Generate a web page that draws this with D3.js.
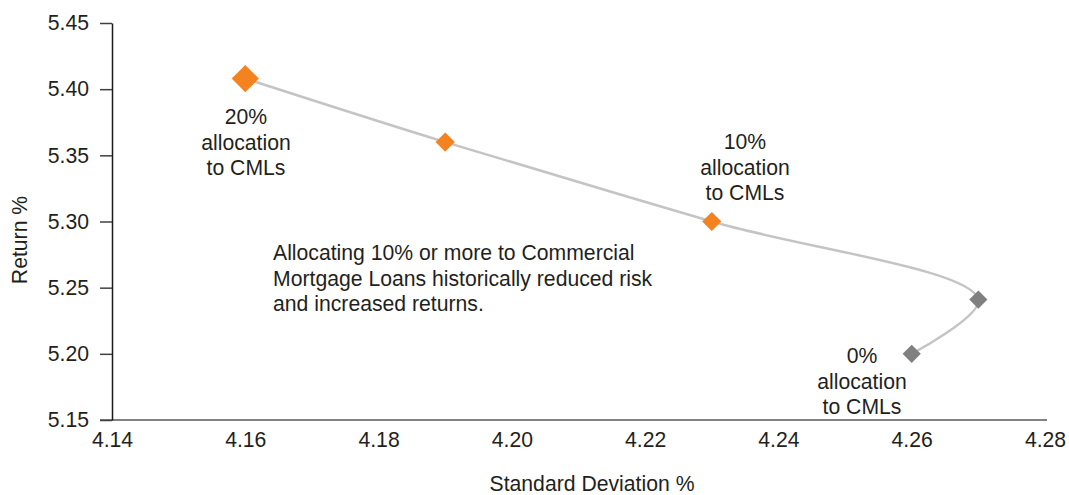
<!DOCTYPE html>
<html>
<head>
<meta charset="utf-8">
<script src="https://cdn.jsdelivr.net/npm/d3@7"></script>
<style>
  html, body { margin: 0; padding: 0; background: #fff; }
  svg { display: block; font-family: "Liberation Sans", Arial, Helvetica, sans-serif; }
</style>
</head>
<body>
<svg id="chart" width="1069" height="495"></svg>
<script>
// ---- data ----
const allocations = [20, 15, 10, 5, 0];            // % allocation to CMLs
const stdDev      = [4.16, 4.19, 4.23, 4.27, 4.26]; // Standard Deviation %
const returns     = [5.408, 5.36, 5.30, 5.241, 5.20]; // Return %
const xTicks = [4.14, 4.16, 4.18, 4.20, 4.22, 4.24, 4.26, 4.28];
const yTicks = [5.15, 5.20, 5.25, 5.30, 5.35, 5.40, 5.45];
const labelledAllocations = [20, 10, 0];
const noteLines = [
  "Allocating 10% or more to Commercial",
  "Mortgage Loans historically reduced risk",
  "and increased returns."
];

// ---- chart ----
const svg = d3.select("#chart");
const textColor = "#231f20";
const fs = 21.2;

const x = d3.scaleLinear().domain([4.14, 4.28]).range([112, 1045]);
const y = d3.scaleLinear().domain([5.15, 5.45]).range([420, 23]);

const pts = allocations.map((a, i) => ({ a, sd: stdDev[i], r: returns[i] }));

// x axis
const gx = svg.append("g").attr("transform", `translate(0,${y(5.15)})`)
  .call(d3.axisBottom(x).tickValues(xTicks).tickFormat(d3.format(".2f"))
    .tickSize(0).tickSizeOuter(0).tickPadding(12));
gx.select(".domain").attr("stroke", "#595959").attr("stroke-width", 1.5)
  .attr("d", `M${112 - 12},0H${x(4.28) + 2}`);
gx.selectAll("text").attr("font-size", fs).attr("fill", textColor).attr("font-family", null);

// y axis
const gy = svg.append("g").attr("transform", `translate(${x(4.14)},0)`)
  .call(d3.axisLeft(y).tickValues(yTicks).tickFormat(d3.format(".2f"))
    .tickSize(12).tickSizeOuter(0).tickPadding(11));
gy.select(".domain").attr("stroke", "#1a1a1a").attr("stroke-width", 1.5);
gy.selectAll(".tick line").attr("stroke", "#404040").attr("stroke-width", 1.5);
gy.selectAll("text").attr("font-size", fs).attr("fill", textColor).attr("font-family", null);

// axis titles
svg.append("text").attr("x", 592).attr("y", 491).attr("text-anchor", "middle")
  .attr("font-size", fs).attr("fill", textColor).text("Standard Deviation %");
svg.append("text").attr("transform", "translate(27,240) rotate(-90)")
  .attr("text-anchor", "middle").attr("font-size", fs).attr("fill", textColor).text("Return %");

// line
const line = d3.line().x(d => x(d.sd)).y(d => y(d.r)).curve(d3.curveCatmullRom.alpha(0.5));
svg.append("path").datum(pts).attr("d", line)
  .attr("fill", "none").attr("stroke", "#c4c4c4").attr("stroke-width", 2.5);

// markers
const maxA = d3.max(allocations);
svg.selectAll("path.marker").data(pts).join("path")
  .attr("class", "marker")
  .attr("transform", d => `translate(${x(d.sd)},${y(d.r)}) rotate(45)`)
  .attr("d", d => d3.symbol(d3.symbolSquare, d.a === maxA ? 370 : (d.a >= 10 ? 185 : 165))())
  .attr("fill", d => d.a >= 10 ? "#f58220" : "#808080");

// point labels
const labelPos = {
  20: { cx: 246, y0: 124 },
  10: { cx: 745, y0: 149 },
  0:  { cx: 862, y0: 363 }
};
labelledAllocations.forEach(a => {
  const p = labelPos[a];
  const t = svg.append("text").attr("text-anchor", "middle")
    .attr("font-size", fs).attr("fill", textColor);
  [`${a}%`, "allocation", "to CMLs"].forEach((s, i) => {
    t.append("tspan").attr("x", p.cx).attr("y", p.y0 + i * 25.5).text(s);
  });
});

// note
const note = svg.append("text").attr("font-size", fs).attr("fill", textColor);
noteLines.forEach((s, i) => {
  note.append("tspan").attr("x", 273).attr("y", 260 + i * 25.7).text(s);
});
</script>
</body>
</html>
